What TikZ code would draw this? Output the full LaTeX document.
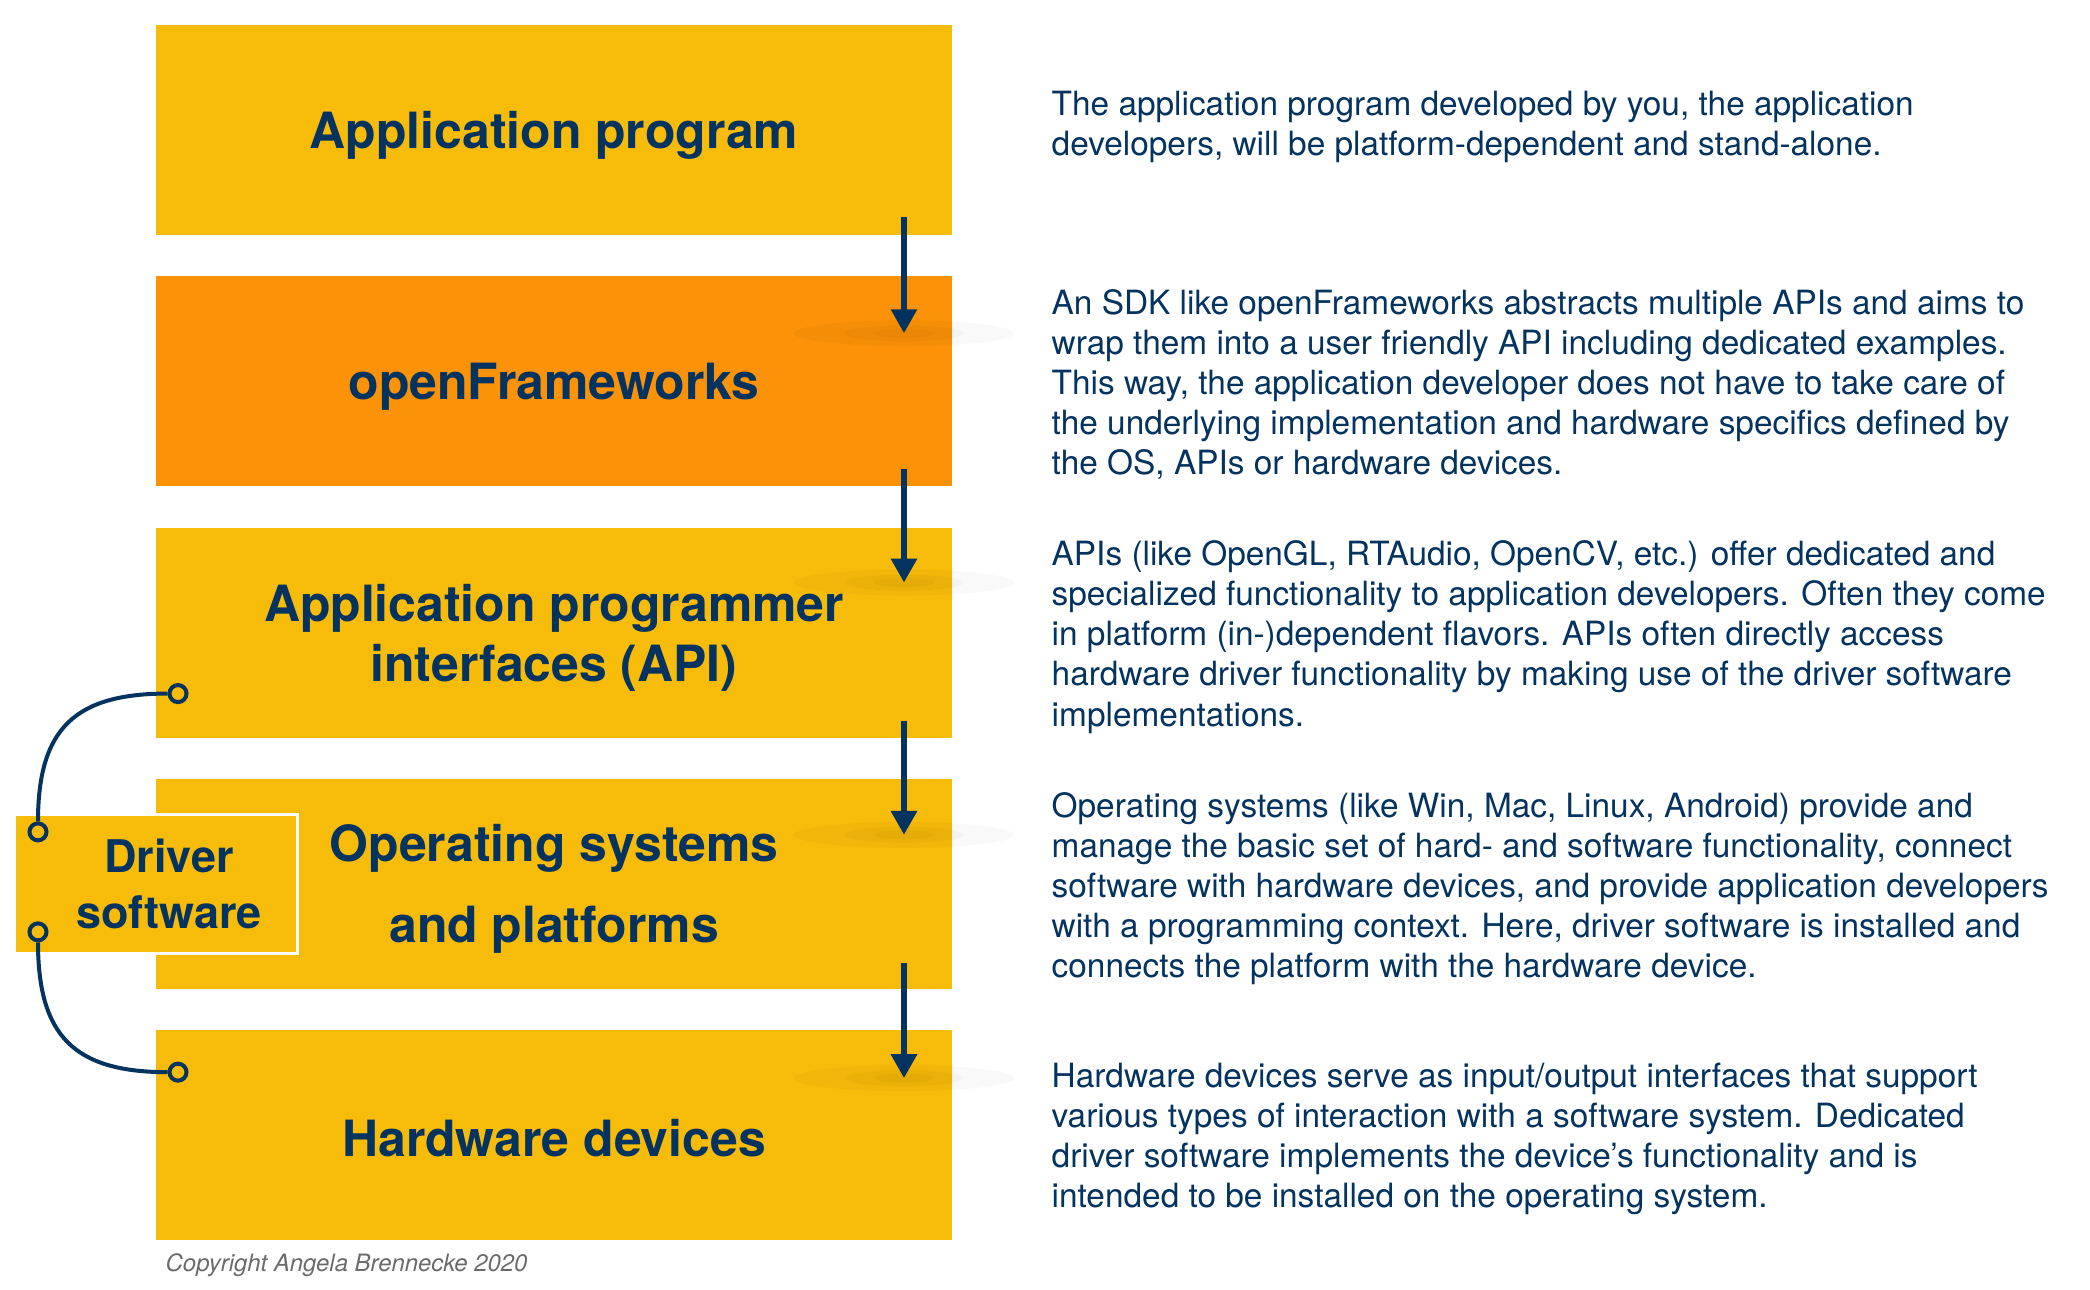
\documentclass[tikz,border=0pt]{standalone}
\usepackage{fontspec}
\setmainfont{TeX Gyre Heros}
\usepackage{tikz}
\usetikzlibrary{arrows.meta,positioning}
\definecolor{OFyellow}{HTML}{F7BB0A}
\definecolor{OForange}{HTML}{FB9208}
\definecolor{OFnavy}{HTML}{04335F}
\definecolor{OFgrey}{HTML}{6B6B6B}
\newcommand{\layerfont}{\fontsize{14.2}{17.1}\selectfont\bfseries}
\newcommand{\drvfont}{\fontsize{12.8}{15.9}\selectfont\bfseries}
\newcommand{\descfont}{\fontsize{9.5}{11.4}\selectfont}
\tikzset{
  stack/layer/.style={fill=OFyellow, minimum width=79.6mm, minimum height=21mm, inner sep=0pt, outer sep=0pt},
  stack/sdk/.style={stack/layer, fill=OForange},
  stack/title/.style={align=center, text=OFnavy, font=\layerfont, inner sep=0pt},
  stack/driver/.style={fill=OFyellow, draw=white, line width=0.3mm, minimum width=28.3mm, minimum height=13.9mm, inner sep=0pt},
  stack/drvlabel/.style={align=center, text=OFnavy, font=\drvfont, inner sep=0pt},
  stack/desc/.style={align=left, text=OFnavy, font=\descfont, inner sep=0pt},
  stack/pin/.style={circle, draw=OFnavy, fill=OFyellow, line width=0.4mm, minimum size=1.7mm, inner sep=0pt},
  stack/link/.style={draw=OFnavy, line width=0.4mm},
  stack/flow/.style={draw=OFnavy, line width=0.6mm, -{Triangle[width=2.5mm,length=2.4mm]}},
  stack/shade/.style={fill=black, opacity=0.025},
  stack/credit/.style={font=\fontsize{6.8}{8}\selectfont\itshape, text=OFgrey, inner sep=0pt}
}

\begin{document}
\begin{tikzpicture}[x=0.1mm, y=0.1mm, node distance=4.13mm]
  \useasboundingbox[fill=white] (0,0) rectangle (2090,1290);
  % the layer stack
  \node[stack/layer] (app) at (554,1160) {};
  \node[stack/sdk, below=of app] (ofw) {};
  \node[stack/layer, below=of ofw] (api) {};
  \node[stack/layer, below=of api] (os) {};
  \node[stack/layer, below=of os] (hw) {};
  \node[stack/title] (appTitle) at ([yshift=-0.5mm]app.center) {Application program};
  \node[stack/title] (ofwTitle) at ([yshift=-0.5mm]ofw.center) {openFrameworks};
  \node[stack/title] (apiTitle) at ([yshift=-0.5mm]api.center) {Application programmer\\interfaces (API)};
  \node[stack/title] (osTitle) at ([yshift=-0.5mm]os.center) {Operating systems\\[2.1mm]and platforms};
  \node[stack/title] (hwTitle) at ([yshift=-0.3mm]hw.center) {Hardware devices};

  % descriptions
  \node[stack/desc, right=9.9mm of app, yshift=0.3mm] (appdesc) {The application program developed by you, the application\\developers, will be platform-dependent and stand-alone.};
  \node[stack/desc, right=9.9mm of ofw, yshift=-0.35mm] (ofwdesc) {An SDK like openFrameworks abstracts multiple APIs and aims to\\wrap them into a user friendly API including dedicated examples.\\This way, the application developer does not have to take care of\\the underlying implementation and hardware specifics defined by\\the OS, APIs or hardware devices.};
  \node[stack/desc, right=9.9mm of api, yshift=-0.45mm] (apidesc) {APIs (like OpenGL, RTAudio, OpenCV, etc.) offer dedicated and\\specialized functionality to application developers. Often they come\\in platform (in-)dependent flavors. APIs often directly access\\hardware driver functionality by making use of the driver software\\implementations.};
  \node[stack/desc, right=9.9mm of os, yshift=-0.45mm] (osdesc) {Operating systems (like Win, Mac, Linux, Android) provide and\\manage the basic set of hard- and software functionality, connect\\software with hardware devices, and provide application developers\\with a programming context. Here, driver software is installed and\\connects the platform with the hardware device.};
  \node[stack/desc, right=9.9mm of hw, yshift=-0.4mm] (hwdesc) {Hardware devices serve as input/output interfaces that support\\various types of interaction with a software system. Dedicated\\driver software implements the device’s functionality and is\\intended to be installed on the operating system.};

  % arrows between layers
  \foreach \a/\b/\s/\t in {app/ofw/1.8/5.7, ofw/api/1.7/5.5, api/os/1.7/5.6, os/hw/2.6/4.8}{
    \foreach \rx/\ry in {11/1.3, 6/0.8, 3/0.45}
      \fill[stack/shade] ([xshift=35mm,yshift=-\t mm]\b.north) ellipse [x radius=\rx mm, y radius=\ry mm];
    \draw[stack/flow] ([xshift=35mm,yshift=\s mm]\a.south) -- ([xshift=35mm,yshift=-\t mm]\b.north);
  }

  % driver software
  \node[stack/driver] (drv) at (os.west) {};
  \node[stack/drvlabel] (drvtext) at ([xshift=1.3mm]drv.center) {Driver\\software};
  \node[stack/pin] (apiPin) at ([xshift=2.2mm,yshift=4.4mm]api.south west) {};
  \node[stack/pin] (hwPin) at ([xshift=2.2mm,yshift=-4.2mm]hw.north west) {};
  \node[stack/pin] (drvTop) at ([xshift=2.5mm,yshift=-1.9mm]drv.north west) {};
  \node[stack/pin] (drvBot) at ([xshift=2.5mm,yshift=2.3mm]drv.south west) {};
  \draw[stack/link] (drvTop) to[out=90,in=180,looseness=1.3] (apiPin);
  \draw[stack/link] (drvBot) to[out=-90,in=180,looseness=1.3] (hwPin);

  \node[stack/credit, anchor=north west] (credit) at ([xshift=0.9mm,yshift=-1.3mm]hw.south west) {Copyright Angela Brennecke 2020};
\end{tikzpicture}
\end{document}
